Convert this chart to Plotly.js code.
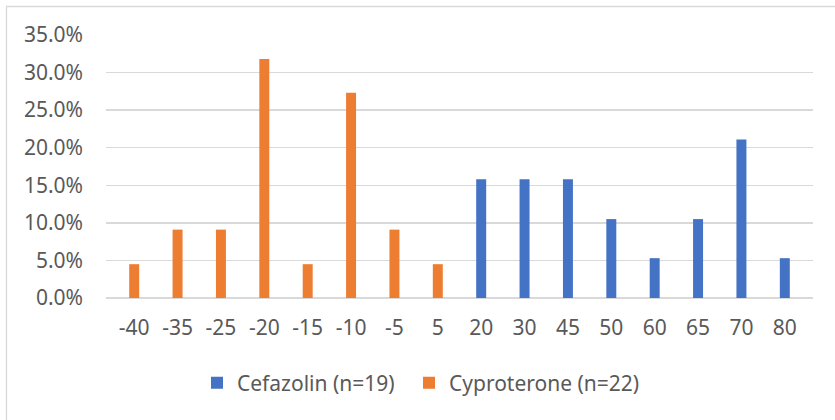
<!DOCTYPE html>
<html>
<head>
<meta charset="utf-8">
<script src="https://cdn.plot.ly/plotly-3.0.1.min.js"></script>
<style>
  html, body { margin: 0; padding: 0; background: #fff; }
  #chart { width: 835px; height: 420px; }
</style>
</head>
<body>
<div id="chart"></div>
<script>
const categories = ["-40","-35","-25","-20","-15","-10","-5","5","20","30","45","50","60","65","70","80"];
const cefazolin = [null,null,null,null,null,null,null,null,0.158,0.158,0.158,0.105,0.053,0.105,0.211,0.053];
const cyproterone = [0.045,0.091,0.091,0.318,0.045,0.273,0.091,0.045,null,null,null,null,null,null,null,null];
const seriesNames = ["Cefazolin (n=19)", "Cyproterone (n=22)"];
const yTicks = [0,0.05,0.10,0.15,0.20,0.25,0.30,0.35];

const textColor = "#595959";
const gridColor = "#d9d9d9";
const fontFamily = "Noto Sans, Open Sans, sans-serif";
const fs = 21;

const traces = [
  { type: "bar", x: categories, y: cefazolin, name: seriesNames[0],
    marker: { color: "#4472C4" }, width: 0.23, hoverinfo: "skip", legend: "legend" },
  { type: "bar", x: categories, y: cyproterone, name: seriesNames[1],
    marker: { color: "#ED7D31" }, width: 0.23, hoverinfo: "skip", legend: "legend2" }
];

const legendBase = {
  orientation: "h",
  xanchor: "left",
  y: (298 - 383) / 263, yanchor: "middle",
  font: { family: fontFamily, size: fs, color: textColor },
  itemclick: false, itemdoubleclick: false,
  bgcolor: "rgba(0,0,0,0)"
};

const layout = {
  width: 835, height: 420,
  margin: { l: 106, r: 22, t: 35, b: 122 },
  paper_bgcolor: "#fff", plot_bgcolor: "#fff",
  barmode: "overlay",
  font: { family: fontFamily, size: fs, color: textColor },
  xaxis: {
    type: "category",
    range: [-0.65, 15.65],
    showgrid: false, zeroline: false,
    showline: false, ticks: "",
    ticklabelstandoff: 15,
    tickfont: { family: fontFamily, size: fs, color: textColor },
    fixedrange: true
  },
  yaxis: {
    range: [0, 0.35],
    tickvals: yTicks,
    tickformat: ".1%",
    showgrid: true, gridcolor: gridColor, gridwidth: 1.3,
    zeroline: true, zerolinecolor: gridColor, zerolinewidth: 1.3,
    showline: false, ticks: "",
    ticklabelstandoff: 22,
    tickfont: { family: fontFamily, size: fs, color: textColor },
    fixedrange: true
  },
  showlegend: true,
  legend: Object.assign({}, legendBase, { x: (197 - 106) / 707 }),
  legend2: Object.assign({}, legendBase, { x: (409 - 106) / 707 }),
  shapes: [{
    type: "rect", xref: "paper", yref: "paper",
    x0: (6.5 - 106) / 707, x1: (900 - 106) / 707,
    y0: (298 - 450) / 263, y1: (298 - 6.5) / 263,
    line: { color: gridColor, width: 1.3 }, fillcolor: "rgba(0,0,0,0)", layer: "below"
  }]
};

Plotly.newPlot("chart", traces, layout, { displayModeBar: false, staticPlot: true });
</script>
</body>
</html>
